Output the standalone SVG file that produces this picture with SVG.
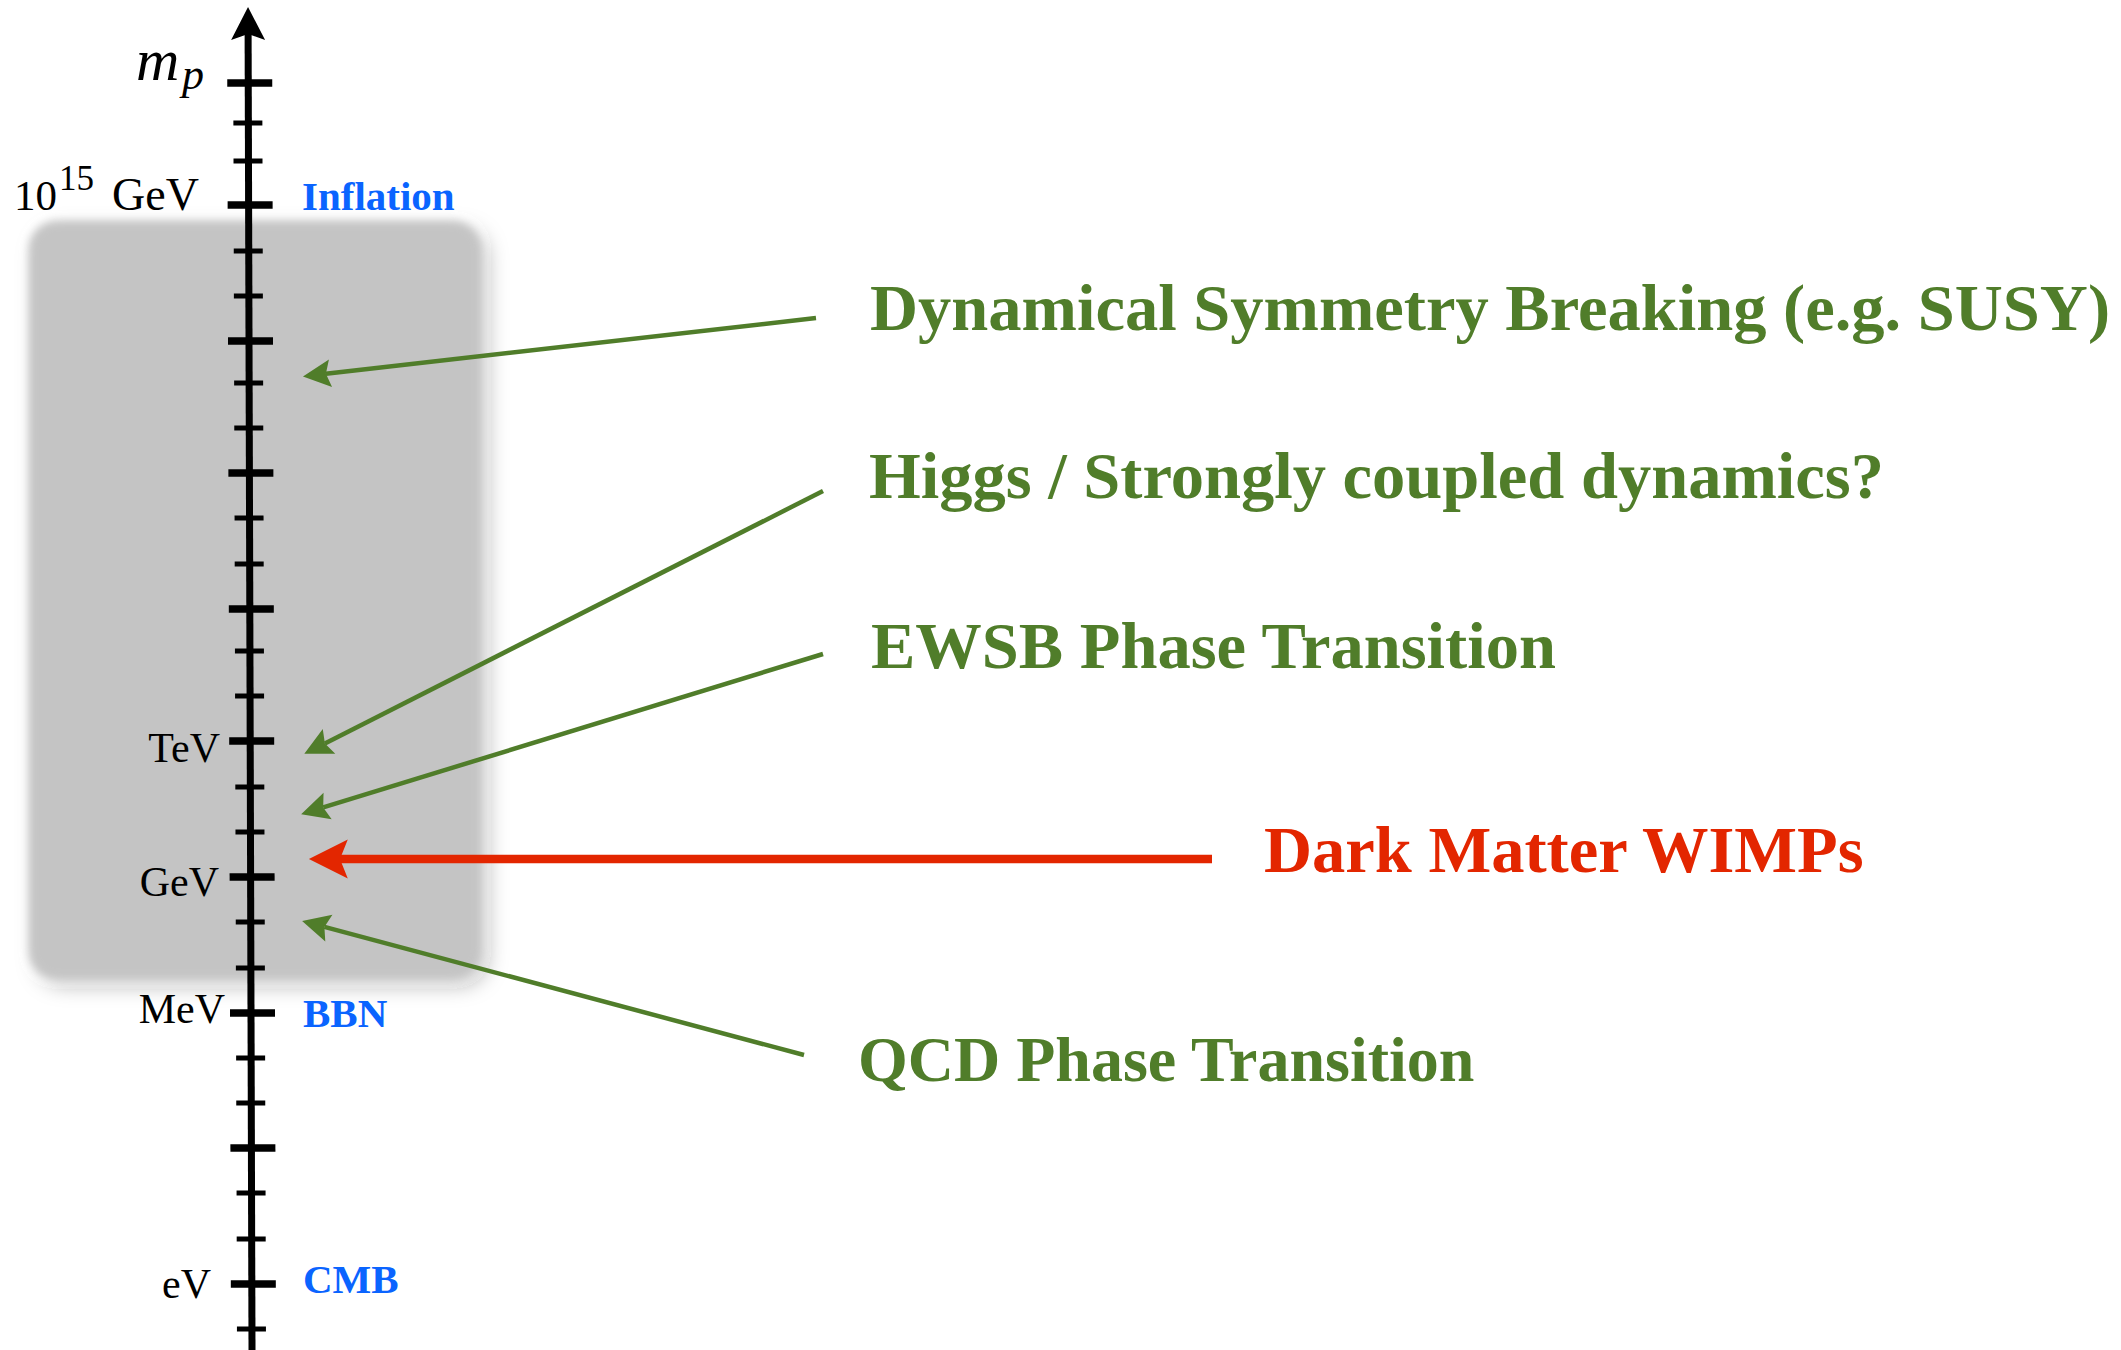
<svg xmlns="http://www.w3.org/2000/svg" width="2121" height="1350" viewBox="0 0 2121 1350">
  <style>
    .axis { stroke: #000; fill: none; }
    .major { stroke: #000; stroke-width: 7.5; }
    .minor { stroke: #000; stroke-width: 5; }
    .tick { font-family: "Liberation Serif", "Times New Roman", serif; font-size: 42px; fill: #000; }
    .math { font-family: "Liberation Serif", "Times New Roman", serif; font-style: italic; fill: #000; }
    .era { font-family: "Liberation Serif", "Times New Roman", serif; font-weight: bold; font-size: 41px; fill: #0a64ff; }
    .lbl { font-family: "Liberation Serif", "Times New Roman", serif; font-weight: bold; font-size: 66.5px; fill: #507d2a; }
    .red { fill: #e32600; }
    .garrow { stroke: #507d2a; stroke-width: 4.5; fill: none; marker-end: url(#gHead); }
    .rarrow { stroke: #e32600; stroke-width: 8.5; fill: none; marker-end: url(#rHead); }
  </style>
  <defs>
    <marker id="gHead" markerUnits="userSpaceOnUse" markerWidth="30" markerHeight="30" viewBox="0 -13 25 26" refX="4" refY="0" orient="auto">
      <path d="M0,-12 L24,0 L0,12 L4,0 Z" fill="#507d2a"/>
    </marker>
    <marker id="rHead" markerUnits="userSpaceOnUse" markerWidth="40" markerHeight="40" viewBox="0 -18 36 36" refX="7" refY="0" orient="auto">
      <path d="M0,-17.5 L35,0 L0,17.5 L7,0 Z" fill="#e32600"/>
    </marker>
    <filter id="soft" x="-20%" y="-20%" width="140%" height="140%">
      <feGaussianBlur in="SourceAlpha" stdDeviation="10" result="b"/>
      <feOffset in="b" dx="7" dy="7" result="o"/>
      <feFlood flood-color="#000" flood-opacity="0.28"/>
      <feComposite in2="o" operator="in" result="s"/>
      <feGaussianBlur in="SourceGraphic" stdDeviation="4" result="g"/>
      <feMerge><feMergeNode in="s"/><feMergeNode in="g"/></feMerge>
    </filter>
  </defs>

  <rect width="2121" height="1350" fill="#ffffff"/>

  <g id="box">
    <rect x="29" y="221" width="452" height="758" rx="28" ry="28" fill="#c4c4c4" filter="url(#soft)"/>
  </g>

  <g id="axis" transform="translate(248,0) skewX(0.17)">
    <line class="axis" x1="0" y1="34" x2="0" y2="1350" stroke-width="7"/>
    <path d="M0,7 L17,40 L0,34 L-17,40 Z" fill="#000"/>
    <line class="major" x1="-21" y1="83" x2="24" y2="83"/>
    <line class="minor" x1="-15" y1="123" x2="14" y2="123"/>
    <line class="minor" x1="-15" y1="161" x2="14" y2="161"/>
    <line class="major" x1="-21" y1="205" x2="24" y2="205"/>
    <line class="minor" x1="-15" y1="251" x2="14" y2="251"/>
    <line class="minor" x1="-15" y1="296" x2="14" y2="296"/>
    <line class="major" x1="-21" y1="341" x2="24" y2="341"/>
    <line class="minor" x1="-15" y1="383" x2="14" y2="383"/>
    <line class="minor" x1="-15" y1="428" x2="14" y2="428"/>
    <line class="major" x1="-21" y1="473" x2="24" y2="473"/>
    <line class="minor" x1="-15" y1="518" x2="14" y2="518"/>
    <line class="minor" x1="-15" y1="564" x2="14" y2="564"/>
    <line class="major" x1="-21" y1="609" x2="24" y2="609"/>
    <line class="minor" x1="-15" y1="651" x2="14" y2="651"/>
    <line class="minor" x1="-15" y1="696" x2="14" y2="696"/>
    <line class="major" x1="-21" y1="741" x2="24" y2="741"/>
    <line class="minor" x1="-15" y1="787" x2="14" y2="787"/>
    <line class="minor" x1="-15" y1="832" x2="14" y2="832"/>
    <line class="major" x1="-21" y1="877" x2="24" y2="877"/>
    <line class="minor" x1="-15" y1="922" x2="14" y2="922"/>
    <line class="minor" x1="-15" y1="968" x2="14" y2="968"/>
    <line class="major" x1="-21" y1="1013" x2="24" y2="1013"/>
    <line class="minor" x1="-15" y1="1058" x2="14" y2="1058"/>
    <line class="minor" x1="-15" y1="1103" x2="14" y2="1103"/>
    <line class="major" x1="-21" y1="1148" x2="24" y2="1148"/>
    <line class="minor" x1="-15" y1="1193" x2="14" y2="1193"/>
    <line class="minor" x1="-15" y1="1239" x2="14" y2="1239"/>
    <line class="major" x1="-21" y1="1284" x2="24" y2="1284"/>
    <line class="minor" x1="-15" y1="1329" x2="14" y2="1329"/>
  </g>

  <g id="axis-labels">
    <text class="math" x="136" y="80" style="font-size:60px">m</text>
    <text class="math" x="182" y="89" style="font-size:44px">p</text>
    <text class="tick" x="14" y="210" style="font-size:43px">10</text>
    <text class="tick" x="59" y="190" style="font-size:35px">15</text>
    <text class="tick" x="112" y="210" style="font-size:46px">GeV</text>
    <text class="tick" x="220" y="762" text-anchor="end">TeV</text>
    <text class="tick" x="219" y="896" text-anchor="end">GeV</text>
    <text class="tick" x="225" y="1023" text-anchor="end">MeV</text>
    <text class="tick" x="211" y="1298" text-anchor="end">eV</text>
  </g>

  <g id="era-inflation"><text class="era" x="302" y="210">Inflation</text></g>
  <g id="era-bbn"><text class="era" x="303" y="1027">BBN</text></g>
  <g id="era-cmb"><text class="era" x="303" y="1293">CMB</text></g>

  <g id="node-dsb"><text class="lbl" x="870" y="330">Dynamical Symmetry Breaking (e.g. SUSY)</text></g>
  <g id="node-higgs"><text class="lbl" x="869" y="498">Higgs / Strongly coupled dynamics?</text></g>
  <g id="node-ewsb"><text class="lbl" x="871" y="668">EWSB Phase Transition</text></g>
  <g id="node-dm"><text class="lbl red" x="1264" y="872">Dark Matter WIMPs</text></g>
  <g id="node-qcd"><text class="lbl" x="858" y="1081" style="font-size:64px">QCD Phase Transition</text></g>

  <g id="connectors">
    <line class="garrow" x1="816" y1="318" x2="325.9" y2="373.8"/>
    <line class="garrow" x1="823" y1="491" x2="324.9" y2="743.4"/>
    <line class="garrow" x1="823" y1="654" x2="323.2" y2="807.4"/>
    <line class="garrow" x1="804" y1="1055" x2="324.4" y2="926.9"/>
    <line class="rarrow" x1="1212" y1="859" x2="340" y2="859"/>
  </g>
</svg>
